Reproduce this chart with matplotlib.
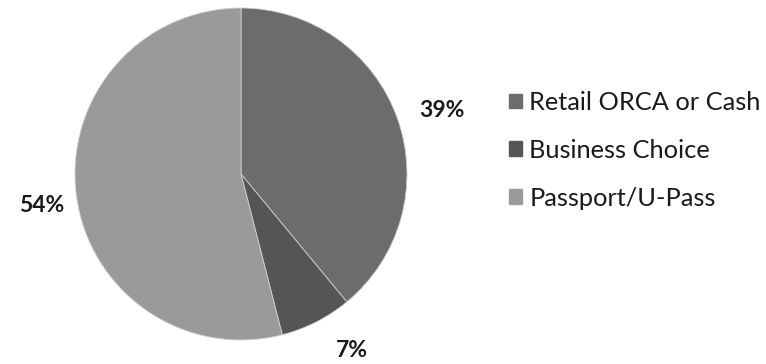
import matplotlib
matplotlib.use("Agg")
import matplotlib.pyplot as plt
import numpy as np
from matplotlib.patches import Patch

categories = ["Retail ORCA or Cash", "Business Choice", "Passport/U-Pass"]
shares = [39, 7, 54]
colors = ["#6c6c6c", "#555555", "#9a9a9a"]

plt.rcParams['font.family'] = ['Lato', 'DejaVu Sans']

fig = plt.figure(figsize=(7.66, 3.64), dpi=100)
# pie centred near (241, 174) px, radius ~166 px
ax = fig.add_axes([75 / 766, 24 / 364, 332 / 766, 332 / 364])
wedges, _ = ax.pie(shares, colors=colors, startangle=90, counterclock=False,
                   wedgeprops=dict(edgecolor="#d0d0d0", linewidth=0.6))
ax.set_xlim(-1, 1)
ax.set_ylim(-1, 1)
ax.set_aspect("equal")

# percentage labels, placed like the original Excel chart
label_pos = [(1.21, 0.385), (0.67, -1.065), (-1.20, -0.19)]
for v, (x, y) in zip(shares, label_pos):
    ax.text(x, y, f"{v}%", ha="center", va="center", fontsize=16.5,
            fontweight="bold", color="#1a1a1a", clip_on=False)

handles = [Patch(facecolor=c, edgecolor=c) for c in colors]
fig.legend(handles, categories, loc="upper left", bbox_to_anchor=(491 / 766, 1 - 73 / 364),
           frameon=False, fontsize=18.3, handlelength=0.5, handleheight=0.5,
           handletextpad=0.3, labelspacing=0.98, borderpad=0.2, labelcolor="#1a1a1a")

fig.savefig("out.png", dpi=100)
